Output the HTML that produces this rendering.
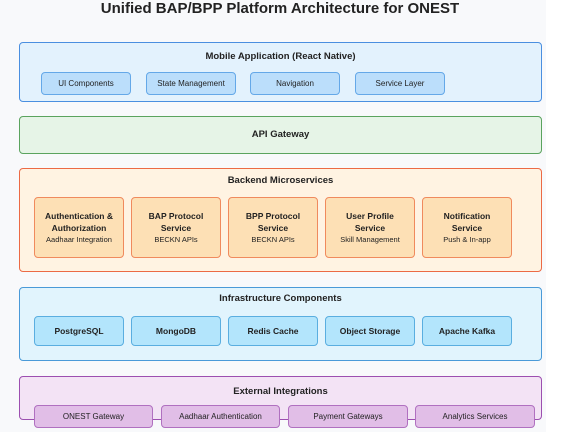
<!DOCTYPE html>
<html><head><meta charset="utf-8"><style>
body{margin:0;width:576px;height:442px;background:#fff;font-family:"Liberation Sans",sans-serif;position:relative;overflow:hidden}
#bg{position:absolute;left:0;top:0;width:546px;height:432px;background:#f8f9fb}
.a{position:absolute;box-sizing:border-box;border-radius:4px}
.t{position:absolute;left:0;right:0;text-align:center;font-weight:bold;color:#222}
.s{position:absolute;box-sizing:border-box;border-radius:4px;display:flex;flex-direction:column;align-items:center;justify-content:center;text-align:center;color:#222}
.mb{background:#bbdefb;border:1px solid #64a8e8;font-size:8px}
.be{background:#fde0b5;border:1px solid #f08a5d;font-size:8.5px;font-weight:bold;line-height:12px}
.be i{font-style:normal;font-weight:normal;font-size:7.5px;line-height:12px}
.in{background:#b3e5fc;border:1px solid #5aaee0;font-size:8.5px;font-weight:bold}
.ex{background:#e1bee7;border:1px solid #b070c0;font-size:8px}
</style></head><body>
<div id="bg"></div>
<div class="t" style="top:0;width:560px;font-size:15px;line-height:18px">Unified BAP/BPP Platform Architecture for ONEST</div>

<div class="a" style="left:19px;top:42px;width:523px;height:60px;background:#e3f2fd;border:1.5px solid #4a8fe0"></div>
<div class="t" style="left:19px;width:523px;top:51px;font-size:9.5px">Mobile Application (React Native)</div>
<div class="s mb" style="left:41px;top:72px;width:90px;height:23px">UI Components</div>
<div class="s mb" style="left:146px;top:72px;width:90px;height:23px">State Management</div>
<div class="s mb" style="left:250px;top:72px;width:90px;height:23px">Navigation</div>
<div class="s mb" style="left:355px;top:72px;width:90px;height:23px">Service Layer</div>

<div class="a" style="left:19px;top:116px;width:523px;height:38px;background:#e6f4e7;border:1.5px solid #5aa35e"></div>
<div class="t" style="left:19px;width:523px;top:129px;font-size:9.5px">API Gateway</div>

<div class="a" style="left:19px;top:168px;width:523px;height:104px;background:#fff3e2;border:1.5px solid #ec6a45"></div>
<div class="t" style="left:19px;width:523px;top:175px;font-size:9.5px">Backend Microservices</div>
<div class="s be" style="left:34px;top:197px;width:90px;height:61px">Authentication &amp;<br>Authorization<i>Aadhaar Integration</i></div>
<div class="s be" style="left:131px;top:197px;width:90px;height:61px">BAP Protocol<br>Service<i>BECKN APIs</i></div>
<div class="s be" style="left:228px;top:197px;width:90px;height:61px">BPP Protocol<br>Service<i>BECKN APIs</i></div>
<div class="s be" style="left:325px;top:197px;width:90px;height:61px">User Profile<br>Service<i>Skill Management</i></div>
<div class="s be" style="left:422px;top:197px;width:90px;height:61px">Notification<br>Service<i>Push &amp; In-app</i></div>

<div class="a" style="left:19px;top:287px;width:523px;height:74px;background:#e1f4fd;border:1.5px solid #4a9ad8"></div>
<div class="t" style="left:19px;width:523px;top:293px;font-size:9.5px">Infrastructure Components</div>
<div class="s in" style="left:34px;top:316px;width:90px;height:30px">PostgreSQL</div>
<div class="s in" style="left:131px;top:316px;width:90px;height:30px">MongoDB</div>
<div class="s in" style="left:228px;top:316px;width:90px;height:30px">Redis Cache</div>
<div class="s in" style="left:325px;top:316px;width:90px;height:30px">Object Storage</div>
<div class="s in" style="left:422px;top:316px;width:90px;height:30px">Apache Kafka</div>

<div class="a" style="left:19px;top:376px;width:523px;height:44px;background:#f3e3f5;border:1.5px solid #9c4fb0"></div>
<div class="t" style="left:19px;width:523px;top:386px;font-size:9.5px">External Integrations</div>
<div class="s ex" style="left:34px;top:405px;width:119px;height:23px">ONEST Gateway</div>
<div class="s ex" style="left:161px;top:405px;width:119px;height:23px">Aadhaar Authentication</div>
<div class="s ex" style="left:288px;top:405px;width:120px;height:23px">Payment Gateways</div>
<div class="s ex" style="left:415px;top:405px;width:120px;height:23px">Analytics Services</div>
</body></html>
